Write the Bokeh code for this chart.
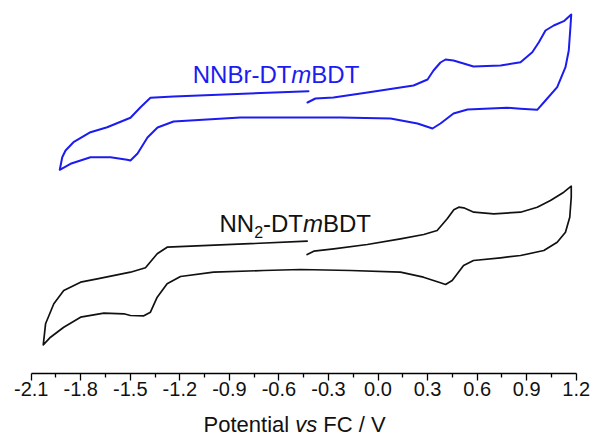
from bokeh.plotting import figure
from bokeh.models import Label, FixedTicker, Range1d, PrintfTickFormatter, LinearAxis
from bokeh.embed import file_html
from bokeh.resources import INLINE

# ---- cyclic voltammograms (potential in V vs Fc/Fc+, current in a.u.) ----
# NNBr-DTmBDT
blue_potential = [
    -0.427, -0.379, -0.270, -0.064, 0.215, 0.300, 0.336, 0.378, 0.409, 0.457,
    0.518, 0.578, 0.742, 0.863, 0.934, 0.974, 1.014, 1.064, 1.125, 1.170,
    1.165, 1.155, 1.135, 1.085, 1.014, 0.964, 0.863, 0.782, 0.542, 0.457,
    0.378, 0.330, 0.239, 0.076, -0.227, -0.469, -0.833, -1.238, -1.335, -1.396,
    -1.456, -1.499, -1.519, -1.620, -1.741, -1.862, -1.927, -1.912, -1.892, -1.844,
    -1.741, -1.640, -1.499, -1.438, -1.378, -1.238, -0.421,
]
blue_current = [
    1.50, 1.90, 2.00, 2.50, 3.20, 3.80, 4.70, 5.50, 5.80, 5.70,
    5.40, 5.10, 5.20, 5.53, 6.53, 7.53, 8.70, 9.20, 9.63, 10.30,
    9.03, 6.70, 5.03, 3.03, 1.70, 0.77, 0.87, 0.97, 0.80, 0.40,
    -0.60, -1.10, -0.60, -0.10, 0.00, 0.00, 0.00, -0.40, -1.00, -2.00,
    -3.60, -4.30, -4.23, -3.97, -3.97, -4.63, -5.23, -3.97, -3.30, -2.47,
    -1.47, -0.97, -0.03, 1.03, 1.97, 2.10, 2.63,
]

# NN2-DTmBDT
black_potential = [
    -0.429, -0.389, -0.268, -0.065, 0.136, 0.277, 0.358, 0.419, 0.459, 0.489,
    0.519, 0.580, 0.701, 0.863, 0.964, 1.044, 1.125, 1.170, 1.170, 1.161,
    1.135, 1.085, 1.004, 0.863, 0.742, 0.578, 0.518, 0.449, 0.409, 0.378,
    0.275, 0.136, -0.167, -0.469, -0.693, -0.996, -1.196, -1.277, -1.337, -1.378,
    -1.418, -1.499, -1.539, -1.660, -1.801, -1.903, -1.983, -2.027, -2.013, -1.963,
    -1.903, -1.801, -1.700, -1.499, -1.408, -1.337, -1.277, -0.429,
]
black_current = [
    1.60, 1.93, 2.17, 2.60, 3.17, 3.60, 4.00, 5.17, 6.07, 6.33,
    6.27, 5.83, 5.67, 5.83, 6.33, 7.00, 7.83, 8.43, 7.33, 5.33,
    3.83, 2.83, 2.00, 1.50, 1.27, 1.00, 0.50, -1.00, -1.40, -1.23,
    -0.67, -0.17, 0.00, 0.10, 0.00, -0.17, -0.60, -1.33, -2.67, -4.17,
    -4.53, -4.50, -4.33, -4.27, -4.67, -5.67, -6.67, -7.43, -5.33, -3.33,
    -2.00, -1.17, -0.83, -0.17, 0.27, 1.67, 2.33, 2.93,
]

# vertical offsets used to stack the two traces
blue_offset = 25.6
black_offset = 10.3

tick_values = [-2.1, -1.8, -1.5, -1.2, -0.9, -0.6, -0.3, 0.0, 0.3, 0.6, 0.9, 1.2]
tick_labels = ["-2.1", "-1.8", "-1.5", "-1.2", "-0.9", "-0.6", "-0.3",
               "0.0", "0.3", "0.6", "0.9", "1.2"]

BLUE = "#1c1cf0"
BLACK = "#111111"
FONT = "Liberation Sans"

# advance widths (em) of Liberation Sans, used to lay out mixed-style labels
EM = {"N": 0.722, "B": 0.667, "r": 0.333, "-": 0.333, "D": 0.722, "T": 0.611,
      "m": 0.833, "2": 0.556, "P": 0.667, "o": 0.556, "t": 0.278, "e": 0.556,
      "n": 0.556, "i": 0.222, "a": 0.556, "l": 0.222, " ": 0.278, "v": 0.5,
      "s": 0.5, "F": 0.611, "C": 0.722, "/": 0.278, "V": 0.667}


def text_width(s, size):
    return sum(EM[c] for c in s) * size


# the frame fills the whole canvas; the potential axis sits at zero current
# and is bounded to the scanned window
p = figure(width=592, height=441,
           x_range=Range1d(-2.2859, 1.2987), y_range=Range1d(-6.8, 37.3),
           x_axis_location=None, y_axis_location=None,
           output_backend="svg", toolbar_location=None,
           min_border_left=0, min_border_right=0,
           min_border_top=0, min_border_bottom=0)
p.grid.visible = False
p.outline_line_color = None
p.background_fill_color = "white"
p.border_fill_color = "white"

p.line(blue_potential, [c + blue_offset for c in blue_current],
       line_color=BLUE, line_width=2.0, line_join="round", line_cap="round")
p.line(black_potential, [c + black_offset for c in black_current],
       line_color=BLACK, line_width=1.7, line_join="round", line_cap="round")

# potential axis
minor_values = [(a + b) / 2 for a, b in zip(tick_values[:-1], tick_values[1:])]
ax = LinearAxis(fixed_location=0, bounds=(tick_values[0], tick_values[-1]))
ax.ticker = FixedTicker(ticks=tick_values, minor_ticks=minor_values)
ax.formatter = PrintfTickFormatter(format="%.1f")
ax.major_label_overrides = dict(zip(tick_values, tick_labels))
ax.axis_line_color = "black"
ax.axis_line_width = 1.3
ax.major_tick_line_color = "black"
ax.major_tick_line_width = 1.3
ax.minor_tick_line_color = "black"
ax.minor_tick_line_width = 1.3
ax.major_tick_in = 0
ax.major_tick_out = 7
ax.minor_tick_in = 0
ax.minor_tick_out = 4
ax.major_label_standoff = 1
ax.major_label_text_font = FONT
ax.major_label_text_font_size = "20px"
ax.major_label_text_color = BLACK
p.add_layout(ax, "below")


def add_pieces(fig, x, y, pieces, color, centred=False, baseline="alphabetic"):
    """Place consecutive text pieces (text, size, style, baseline drop).

    Leading/trailing blanks only advance the pen, since SVG text drops them."""
    total = sum(text_width(t, s) for t, s, _, _ in pieces)
    offset = -total / 2 if centred else 0.0
    for text, size, style, drop in pieces:
        lead = len(text) - len(text.lstrip(" "))
        fig.add_layout(Label(x=x, y=y,
                             x_offset=offset + text_width(" " * lead, size),
                             y_offset=-drop,
                             text=text.strip(" "), text_font=FONT,
                             text_font_size=f"{size}px", text_font_style=style,
                             text_color=color, text_baseline=baseline,
                             text_align="left"))
        offset += text_width(text, size)


LABEL_SIZE = 24
add_pieces(p, -1.122, 29.9, [("NNBr-DT", LABEL_SIZE, "normal", 0),
                             ("m", LABEL_SIZE, "italic", 0),
                             ("BDT", LABEL_SIZE, "normal", 0)], BLUE)
add_pieces(p, -0.960, 14.97, [("NN", LABEL_SIZE, "normal", 0),
                              ("2", 16, "normal", 8.4),
                              ("-DT", LABEL_SIZE, "normal", 0),
                              ("m", LABEL_SIZE, "italic", 0),
                              ("BDT", LABEL_SIZE, "normal", 0)], BLACK)

# axis title with italic "vs", centred under the axis
TITLE_SIZE = 22
add_pieces(p, -0.505, -5.14, [("Potential ", TITLE_SIZE, "normal", 0),
                              ("vs", TITLE_SIZE, "italic", 0),
                              (" FC / V", TITLE_SIZE, "normal", 0)], BLACK,
           centred=True, baseline="middle")

open("out.html", "w").write(file_html(p, INLINE))
